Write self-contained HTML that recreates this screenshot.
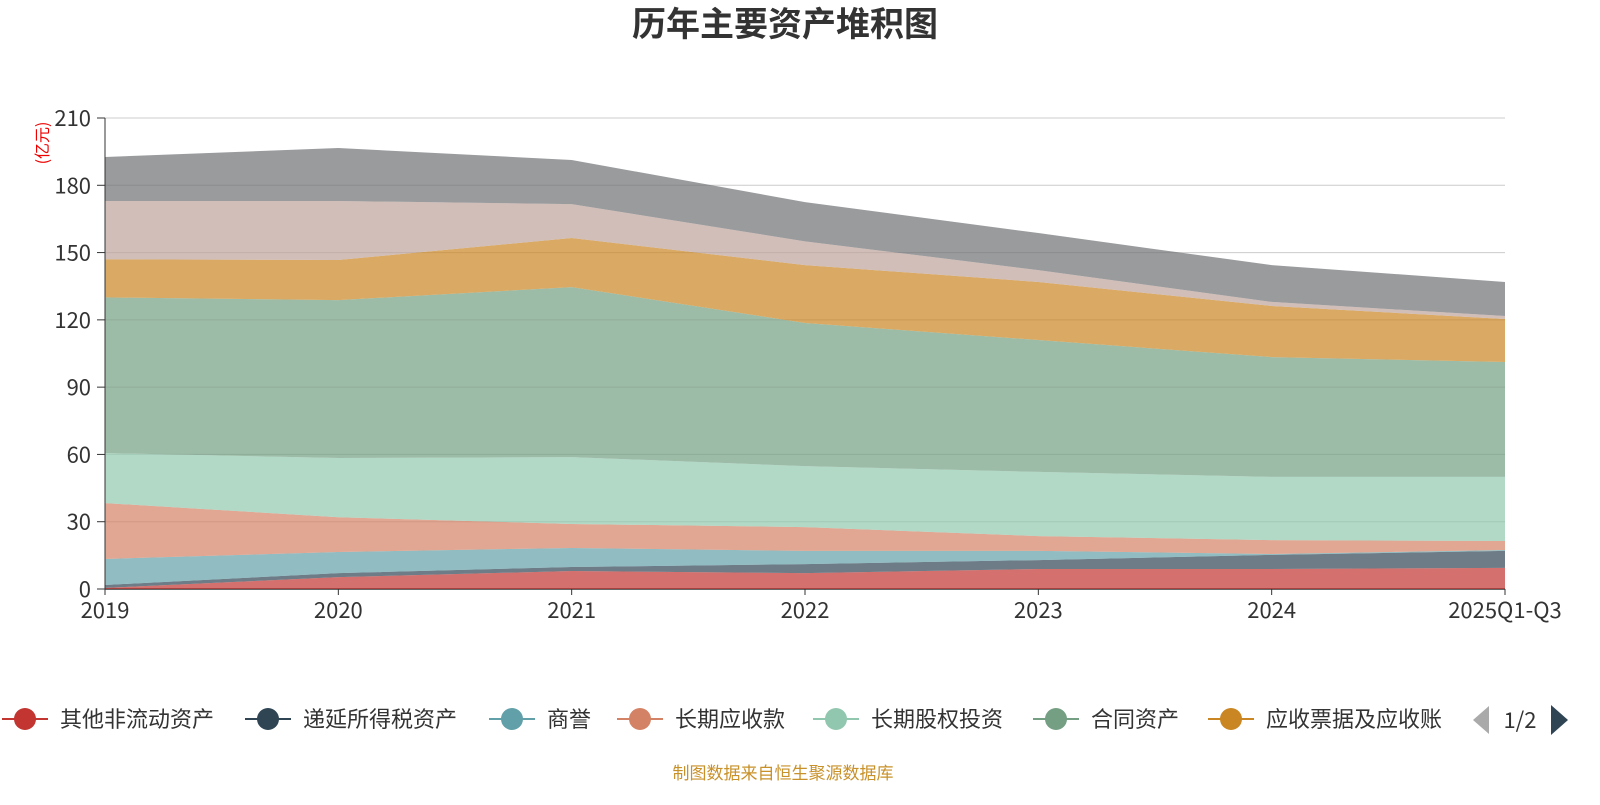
<!DOCTYPE html>
<html><head><meta charset="utf-8"><style>
body{margin:0;background:#fff;width:1600px;height:800px;overflow:hidden;font-family:"Liberation Sans","Noto Sans CJK SC",sans-serif}
</style></head><body>
<svg id="chart" width="1600" height="800" xmlns="http://www.w3.org/2000/svg" font-family="Noto Sans CJK SC, Liberation Sans, sans-serif">
<text x="785" y="36" text-anchor="middle" font-size="34" font-weight="bold" fill="#333">历年主要资产堆积图</text>
<text transform="translate(48,143) rotate(-90)" text-anchor="middle" font-size="16" fill="#e00">(亿元)</text>
<g id="grid"></g><g id="areas"></g><g id="axes"></g><g id="legend"></g>
<text x="783" y="779" text-anchor="middle" font-size="17" fill="#c8912a">制图数据来自恒生聚源数据库</text>
</svg>
<script>
const categories=["2019","2020","2021","2022","2023","2024","2025Q1-Q3"];
const seriesNames=["其他非流动资产","递延所得税资产","商誉","长期应收款","长期股权投资","合同资产","应收票据及应收账","其他资产","其他"];
const sOther=[0.5,5.3,8,7.1,8.9,8.9,9.4];
const sDeferred=[1.3,1.8,1.8,4,4,6.3,7.6];
const sGoodwill=[11.6,9.4,8.5,5.9,4.1,0.4,0.4];
const sLongRecv=[24.9,15.5,10.7,10.6,6.6,6.2,4];
const sEquity=[22.3,26.4,29.8,27.2,28.6,28.2,28.6];
const sContract=[69.4,70.4,75.8,63.8,58.8,53.4,51.2];
const sNotes=[17,17.9,21.9,25.8,25.9,22.8,19.2];
const sPage2a=[26,26.3,15.1,10.6,5.3,1.8,1.3];
const sPage2b=[19.6,23.6,19.7,17.5,16.5,16.4,15.2];
const yTicks=[0,30,60,90,120,150,180,210];
const series=[sOther,sDeferred,sGoodwill,sLongRecv,sEquity,sContract,sNotes,sPage2a,sPage2b];
const colors=["#c23531","#2f4554","#61a0a8","#d48265","#91c7ae","#749f83","#ca8622","#bda29a","#6e7074"];
const NS="http://www.w3.org/2000/svg";
const x0=105,x1=1505,yb=589,yt=118;
const xs=i=>x0+i*(x1-x0)/(categories.length-1);
const ys=v=>yb-(v/210)*(yb-yt);
function mk(t,a,p){const e=document.createElementNS(NS,t);for(const k in a)e.setAttribute(k,a[k]);p.appendChild(e);return e;}
const grid=document.getElementById('grid'),axes=document.getElementById('axes'),areas=document.getElementById('areas'),lg=document.getElementById('legend');
yTicks.forEach(v=>{
 const l=mk('line',{x1:x0,x2:x1,y1:ys(v),y2:ys(v),stroke:v?'#ccc':'#333','stroke-width':v?1:1.5},grid);
 
 
 mk('line',{x1:x0-8,x2:x0,y1:ys(v),y2:ys(v),stroke:'#333'},axes);
 const t=mk('text',{x:x0-14,y:ys(v)+8,'text-anchor':'end','font-size':22,fill:'#333'},axes);t.textContent=v;
 
 
});
mk('line',{x1:x0,x2:x0,y1:yt,y2:yb,stroke:'#333'},axes);
categories.forEach((c,i)=>{
 mk('line',{x1:xs(i),x2:xs(i),y1:yb,y2:yb+6,stroke:'#333'},axes);
 const t=mk('text',{x:xs(i),y:yb+29,'text-anchor':'middle','font-size':22,fill:'#333'},axes);t.textContent=c;
 
 
});
let base=categories.map(()=>0);
series.forEach((s,k)=>{
 const top=base.map((b,i)=>b+s[i]);
 let d=top.map((v,i)=>(i?'L':'M')+xs(i)+','+ys(v)).join('');
 for(let i=categories.length-1;i>=0;i--)d+='L'+xs(i)+','+ys(base[i]);
 const p=mk('path',{d:d+'Z',fill:colors[k],'fill-opacity':0.7,stroke:'none'},areas);
 
 
 base=top;
});
const legX=[25,268,512,640,836,1056,1231];
for(let k=0;k<7;k++){
 const g=mk('g',{},lg);
 
 
 mk('line',{x1:legX[k]-23,x2:legX[k]+23,y1:719,y2:719,stroke:colors[k],'stroke-width':2},g);
 mk('circle',{cx:legX[k],cy:719,r:11,fill:colors[k]},g);
 const t=mk('text',{x:legX[k]+35,y:727,'font-size':22,fill:'#333'},g);t.textContent=seriesNames[k];
}
const pv=mk('path',{d:'M1489,706 L1489,734 L1473,720 Z',fill:'#aaa'},lg);


const pt=mk('text',{x:1520,y:728,'text-anchor':'middle','font-size':22,fill:'#333'},lg);pt.textContent='1/2';


const nx=mk('path',{d:'M1551,705 L1551,735 L1568,720 Z',fill:'#2f4554'},lg);


</script>
</body></html>
